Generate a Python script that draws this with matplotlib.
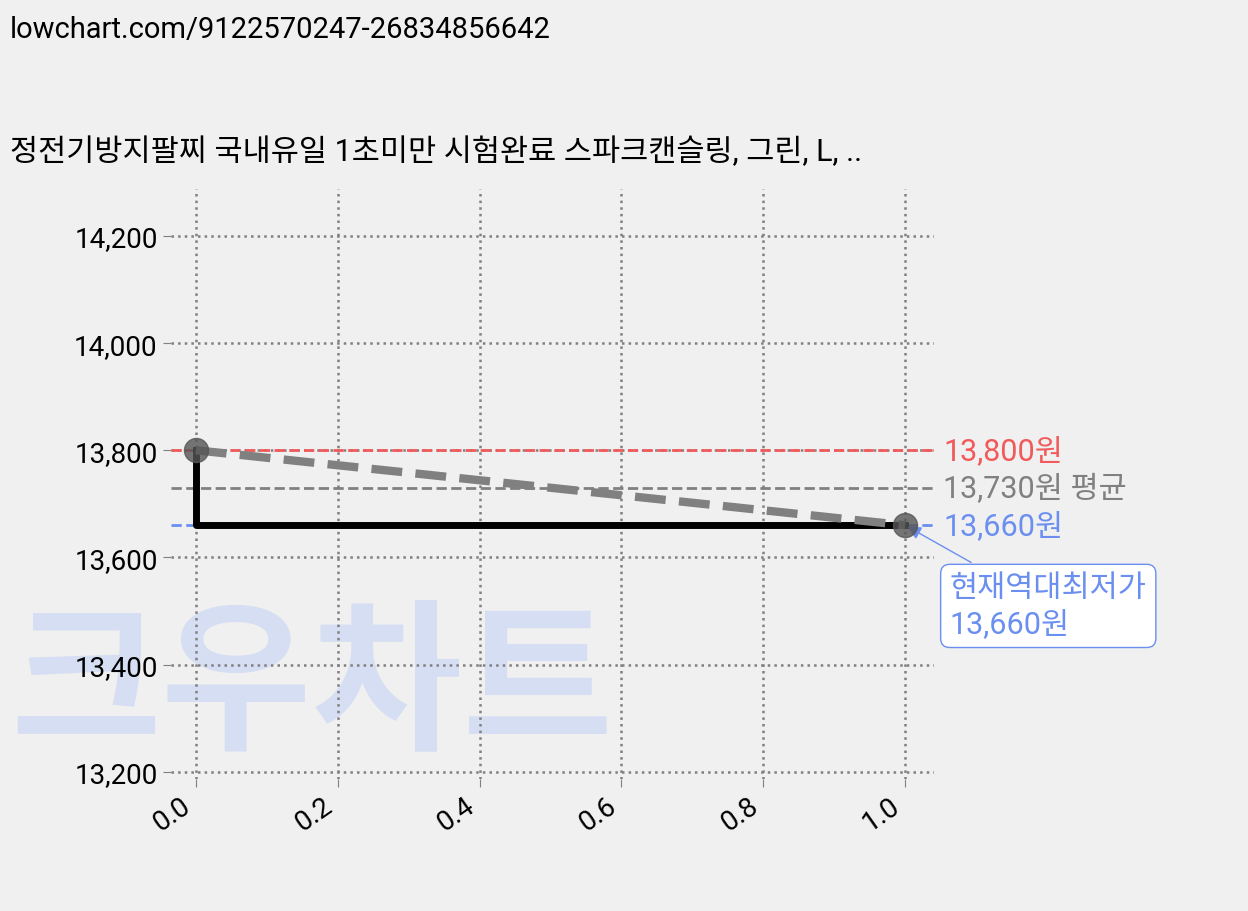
import matplotlib
matplotlib.use("Agg")
import matplotlib.pyplot as plt

plt.rcParams['font.family'] = ['Roboto', 'Noto Sans CJK KR', 'DejaVu Sans']

xs = [0.0, 1.0]
prices = [13800, 13660]
max_p, avg_p, min_p = 13800, 13730, 13660
yticks = [13200, 13400, 13600, 13800, 14000, 14200]
xticks = [0.0, 0.2, 0.4, 0.6, 0.8, 1.0]
title = "정전기방지팔찌 국내유일 1초미만 시험완료 스파크캔슬링, 그린, L, .."

fig = plt.figure(figsize=(12.48, 9.12), dpi=100, facecolor='#f0f0f0')
fig.text(0.25, 0.245, "크우차트", fontsize=118, color='#d5def2', ha='center', va='center',
         weight='black', family=['Noto Sans CJK KR'], zorder=0)
ax = fig.add_axes([0.137, 0.145, 0.611, 0.647], facecolor='none', zorder=1)
for s in ax.spines.values():
    s.set_visible(False)

fig.text(0.008, 0.982, "lowchart.com/9122570247-26834856642", fontsize=21, va='top')
fig.text(0.008, 0.833, title, fontsize=22, va='center')

ax.grid(True, color='gray', linestyle=':', linewidth=1.8)
ax.axhline(max_p, color='#f05a5a', linestyle='--', linewidth=2)
ax.axhline(avg_p, color='gray', linestyle='--', linewidth=2)
ax.axhline(min_p, color='#6a8ff0', linestyle='--', linewidth=2)
ax.plot(xs, prices, drawstyle='steps-pre', color='black', linewidth=5, zorder=3)
ax.plot(xs, prices, color='gray', linestyle='--', linewidth=6, zorder=4)
ax.scatter(xs, prices, s=300, color='#555555', alpha=0.8, zorder=5)

ax.set_xlim(-0.035, 1.04)
ax.set_ylim(13187, 14288)
ax.set_xticks(xticks)
ax.set_xticklabels([f"{v:.1f}" for v in xticks], rotation=35, ha='right', fontsize=20)
ax.set_yticks(yticks)
ax.set_yticklabels([f"{v:,}" for v in yticks], fontsize=20)
ax.tick_params(length=6, color='gray')

tr = ax.get_yaxis_transform()
ax.text(1.013, max_p, f"{max_p:,}원", color='#f05a5a', fontsize=22, va='center', transform=tr)
ax.text(1.013, avg_p, f"{avg_p:,}원 평균", color='gray', fontsize=22, va='center', transform=tr)
ax.text(1.013, min_p, f"{min_p:,}원", color='#6a8ff0', fontsize=22, va='center', transform=tr)

ax.annotate(f"현재역대최저가\n{min_p:,}원", xy=(1.0, min_p), xytext=(1.063, 13570),
            fontsize=22, color='#6a8ff0', va='top', ha='left', linespacing=1.25,
            bbox=dict(boxstyle='round,pad=0.3', fc='white', ec='#6a8ff0'),
            arrowprops=dict(arrowstyle='-|>', color='#6a8ff0', mutation_scale=20), annotation_clip=False)

fig.savefig("out.png", dpi=100, facecolor=fig.get_facecolor())
